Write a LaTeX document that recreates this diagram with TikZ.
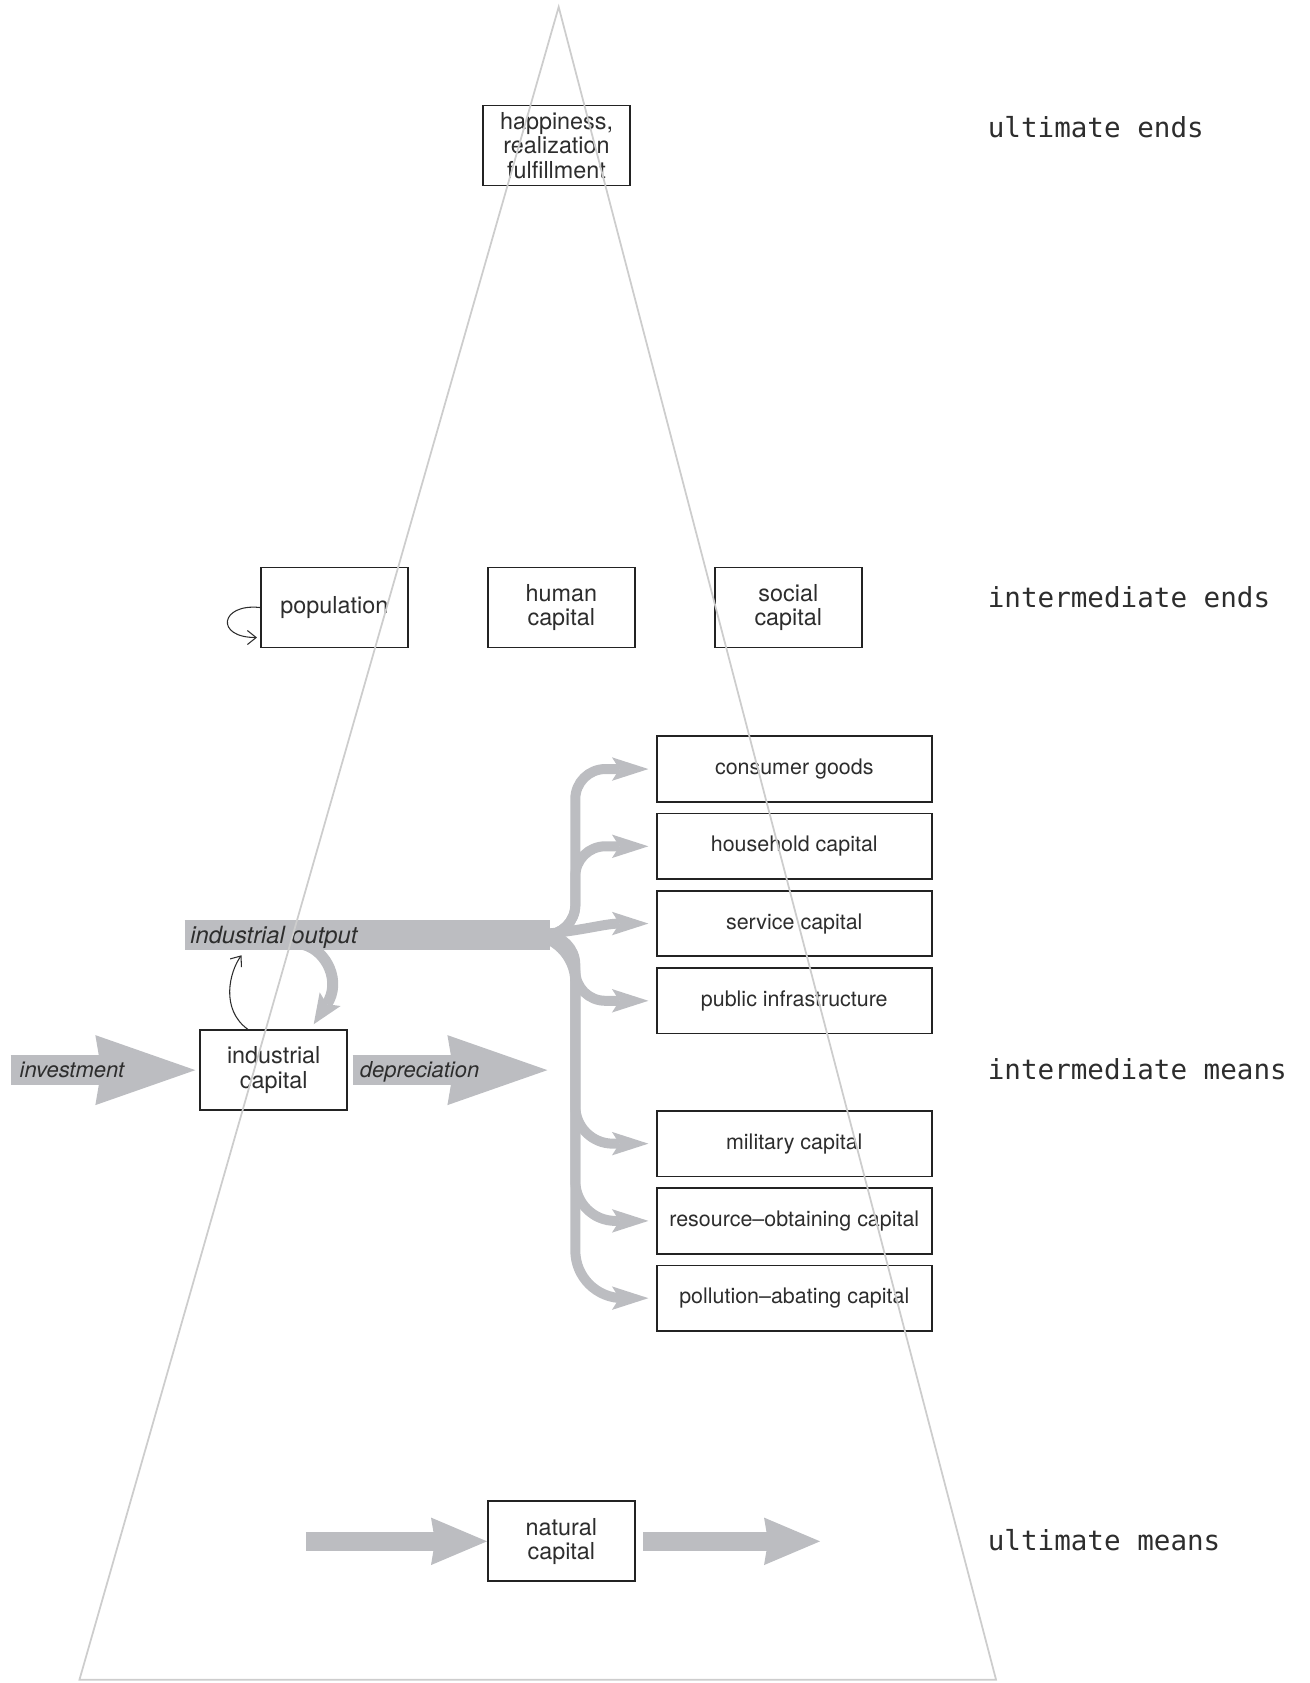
\documentclass[tikz,border=0pt]{standalone}
\usepackage{fontspec}
\setmainfont{TeX Gyre Heros}
\newfontfamily\levelfont{DejaVu Sans Mono}
\usetikzlibrary{positioning, arrows.meta}

\definecolor{flowgray}{RGB}{188,189,193}
\definecolor{conegray}{RGB}{205,205,205}
\definecolor{boxline}{RGB}{35,35,35}
\definecolor{textcol}{RGB}{45,45,45}

\tikzset{
	box/.style={draw=boxline, line width=1pt, fill=white, inner sep=0pt, align=center,
		minimum width=2.94cm, minimum height=1.6cm, text=textcol,
		font=\fontsize{13.3}{14}\selectfont},
	capbox/.style={box, minimum width=5.5cm, minimum height=1.31cm,
		font=\fontsize{12.2}{14}\selectfont},
	level/.style={inner sep=0pt, anchor=base west, text=textcol,
		font=\levelfont\fontsize{15.7}{18}\selectfont},
	flowtext/.style={inner sep=0pt, anchor=base west, text=textcol,
		font=\itshape\fontsize{12.5}{14}\selectfont},
	outbar/.style={draw=flowgray, line width=0.6cm},
	bigflow/.style={draw=flowgray, line width=0.6cm,
		-{Stealth[length=2cm, width=1.4cm, inset=0.12cm, line width=0pt]}},
	natflow/.style={draw=flowgray, line width=0.39cm,
		-{Stealth[length=1.12cm, width=0.95cm, inset=0.08cm, line width=0pt]}},
	branch/.style={draw=flowgray, line width=0.2cm, shorten >=0.15cm,
		-{Stealth[length=0.73cm, width=0.47cm, inset=0.15cm, line width=0pt]}},
	fbflow/.style={draw=flowgray, line width=0.22cm,
		-{Stealth[length=0.6cm, width=0.5cm, inset=0.12cm, line width=0pt]}},
	thinflow/.style={draw=textcol, line width=0.6pt, -{Straight Barb[length=5pt, width=8pt]}},
	cone/.style={draw=conegray, line width=1pt},
}

\begin{document}
\begin{tikzpicture}[x=0.021476cm, y=-0.021476cm]
	\useasboundingbox (0,0) rectangle (1220,1568);

	% ends
	\node[box] (happy) at (518.5,135.5) {happiness,\\realization\\fulfillment};
	\node[box] (pop) at (311.5,566) {population};
	\node[box, right=1.565cm of pop] (human) {human\\capital};
	\node[box, right=1.565cm of human] (social) {social\\capital};

	% means
	\node[capbox] (cons) at (740,716.5) {consumer goods};
	\node[capbox, below=0.2cm of cons] (house) {household capital};
	\node[capbox, below=0.2cm of house] (serv) {service capital};
	\node[capbox, below=0.2cm of serv] (pub) {public infrastructure};
	\node[capbox] (mil) at (740,1065.5) {military capital};
	\node[capbox, below=0.2cm of mil] (res) {resource–obtaining capital};
	\node[capbox, below=0.2cm of res] (poll) {pollution–abating capital};
	\node[box] (indcap) at (255,997) {industrial\\capital};
	\node[box] (natcap) at (523,1436) {natural\\capital};

	\coordinate (invstart) at (10,997);
	\coordinate (deprend) at (510,997);
	\coordinate (natin) at (285,1436);
	\coordinate (natout) at (764,1436);
	\coordinate (outstart) at (172,871);
	\coordinate (barend) at (512,871);
	\coordinate (split) at (480,871);
	\coordinate (trunk) at (536,871);
	\coordinate (fbstart) at (283,880);
	\coordinate (fbtip) at (225,890);

	% flows
	\draw[bigflow, shorten >=0.08cm] (invstart) -- (indcap.west);
	\draw[bigflow, shorten <=0.09cm] (indcap.east) -- (deprend);
	\draw[natflow] (natin) -- (natcap.west);
	\draw[natflow, shorten <=0.15cm] (natcap.east) -- (natout);
	\draw[outbar] (outstart) -- (barend);

	\draw[branch, rounded corners=0.6cm] (split) -- (trunk) |- (cons.west);
	\draw[branch, rounded corners=0.6cm] (split) -- (trunk) |- (house.west);
	\draw[branch] (split) to[out=0, in=180] (serv.west);
	\draw[branch, rounded corners=0.6cm] (split) -- (trunk) |- (pub.west);
	\draw[branch, rounded corners=0.75cm] (split) -- (trunk) |- (mil.west);
	\draw[branch, rounded corners=0.8cm] (split) -- (trunk) |- (res.west);
	\draw[branch, rounded corners=0.95cm] (split) -- (trunk) |- (poll.west);

	\draw[fbflow] (fbstart) .. controls (305,886) and (318,915) .. ([xshift=0.8cm, yshift=0.1cm]indcap.north);
	\draw[thinflow] ([xshift=-0.52cm]indcap.north) .. controls (205,940) and (214,905) .. (fbtip);
	\draw[thinflow] (pop.west) .. controls (205,562) and (200,594) .. ([xshift=-0.06cm, yshift=-0.6cm]pop.west);

	\node[flowtext] (invtxt) at (18,1004) {investment};
	\node[flowtext] (deprtxt) at (335,1004) {depreciation};
	\node[flowtext, font=\itshape\fontsize{13.5}{15}\selectfont] (outtxt) at (177,879) {industrial output};

	% levels
	\node[level] (lvl1) at (920,128) {ultimate ends};
	\node[level] (lvl2) at (920,566) {intermediate ends};
	\node[level] (lvl3) at (920,1006) {intermediate means};
	\node[level] (lvl4) at (920,1445) {ultimate means};

	% cone
	\coordinate (apex) at (520.5,6.5);
	\coordinate (baseright) at (928,1565);
	\coordinate (baseleft) at (74,1565);
	\draw[cone] (apex) -- (baseright) -- (baseleft) -- cycle;
\end{tikzpicture}
\end{document}
